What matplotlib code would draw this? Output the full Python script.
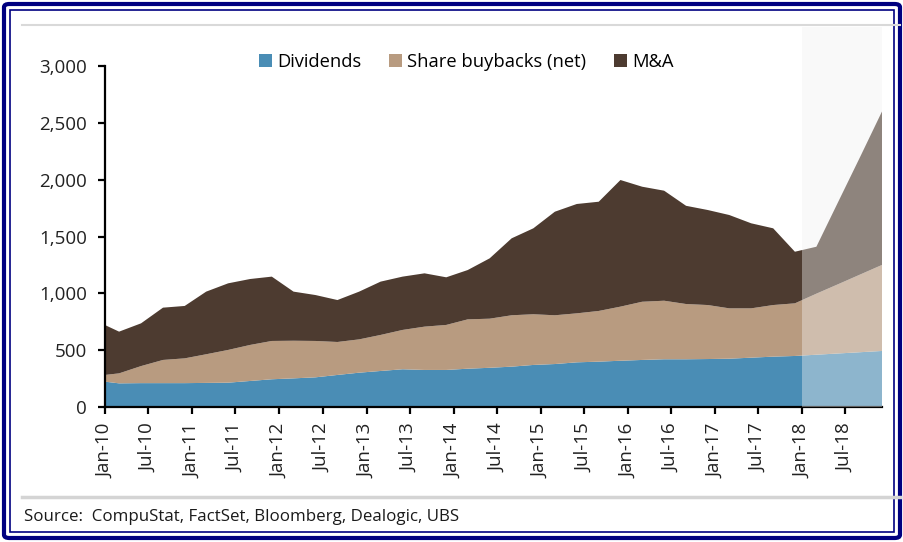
import numpy as np
import pandas as pd
import matplotlib
matplotlib.use("Agg")
import matplotlib.pyplot as plt
import matplotlib.dates as mdates
from matplotlib.patches import Rectangle, Patch, FancyBboxPatch
from matplotlib.lines import Line2D

plt.rcParams['font.family'] = ['Open Sans', 'DejaVu Sans']

# Quarterly observations (first point Jan-10, then quarter ends), USD bn
dates = ["2010-01", "2010-03", "2010-06", "2010-09", "2010-12",
         "2011-03", "2011-06", "2011-09", "2011-12",
         "2012-03", "2012-06", "2012-09", "2012-12",
         "2013-03", "2013-06", "2013-09", "2013-12",
         "2014-03", "2014-06", "2014-09", "2014-12",
         "2015-03", "2015-06", "2015-09", "2015-12",
         "2016-03", "2016-06", "2016-09", "2016-12",
         "2017-03", "2017-06", "2017-09", "2017-12",
         "2018-03", "2018-06", "2018-09", "2018-12"]

dividends = [223, 208, 210, 210, 210, 212, 214, 229, 244, 252, 261, 282, 302,
             317, 332, 326, 326, 337, 345, 355, 370, 378, 393, 399, 407, 414,
             420, 420, 422, 425, 434, 443, 449, 460, 471, 482, 493]
buybacks = [59, 88, 150, 204, 218, 252, 288, 317, 337, 331, 320, 290, 293,
            317, 346, 381, 396, 434, 432, 452, 446, 429, 431, 446, 476, 512,
            515, 486, 475, 443, 434, 454, 463, 537, 610, 684, 757]
ma = [439, 367, 376, 460, 461, 551, 586, 580, 566, 432, 404, 369, 420,
      469, 469, 469, 419, 434, 531, 677, 756, 911, 962, 961, 1114, 1012,
      968, 864, 836, 821, 748, 675, 454, 413, 726, 1037, 1350]

labels = ["Dividends", "Share buybacks (net)", "M&A"]
colors = ["#4a8db5", "#b89b80", "#4d3b30"]
source = "Source:  CompuStat, FactSet, Bloomberg, Dealogic, UBS"

x = pd.to_datetime(dates)

W, H = 904, 542
fig = plt.figure(figsize=(W / 100, H / 100), dpi=100)
fig.patch.set_facecolor("white")
ax = fig.add_axes([105 / W, 1 - 407 / H, (882 - 105) / W, (407 - 66) / H])

ax.stackplot(x, dividends, buybacks, ma, colors=colors, linewidth=0)

ax.set_xlim(x[0], x[-1])
ax.set_ylim(0, 3000)
ax.set_yticks(range(0, 3001, 500))
ax.yaxis.set_major_formatter(matplotlib.ticker.FuncFormatter(lambda v, p: f"{int(v):,}"))

ticks = pd.date_range("2010-01-01", "2018-07-01", freq="6MS")
ax.set_xticks(ticks)
ax.set_xticklabels([t.strftime("%b-%y") for t in ticks], rotation=90)

for s in ["top", "right"]:
    ax.spines[s].set_visible(False)
for s in ["left", "bottom"]:
    ax.spines[s].set_linewidth(1.6)
    ax.spines[s].set_color("black")
ax.tick_params(axis="both", direction="out", length=5, width=1.6,
               labelsize=13.5, colors="black", labelcolor="#222222")
ax.tick_params(axis="y", pad=8)
ax.tick_params(axis="x", pad=7)

# forecast shading from Jan-18
x0 = mdates.date2num(pd.Timestamp("2018-01-01"))
x1 = mdates.date2num(x[-1])
trans = matplotlib.transforms.blended_transform_factory(ax.transData, ax.transAxes)
ax.add_patch(Rectangle((x0, 0), x1 - x0, (407 - 27) / (407 - 66), transform=trans,
                       facecolor="#f2f2f2", alpha=0.4, edgecolor="none",
                       clip_on=False, zorder=3))

handles = [Patch(facecolor=c, edgecolor="none") for c in colors]
fig.legend(handles, labels, loc="center", bbox_to_anchor=(466 / W, 1 - 62 / H),
           ncol=3, frameon=False, fontsize=13.2, handlelength=0.75,
           handleheight=0.75, handletextpad=0.25, columnspacing=1.5)

# grey separator lines
fig.add_artist(Line2D([22 / W, 900 / W], [1 - 25 / H, 1 - 25 / H], color="#d9d9d9", lw=1.5))
fig.add_artist(Line2D([22 / W, 900 / W], [1 - 497 / H, 1 - 497 / H], color="#d4d4d4", lw=2.5))

fig.text(24 / W, 1 - 517 / H, source, fontsize=12.2, va="center", ha="left", color="#1a1a1a")

# navy double frame
fig.add_artist(FancyBboxPatch((4 / W, 4 / H), (W - 8) / W, (H - 8) / H,
                              boxstyle="round,pad=0,rounding_size=0.006",
                              transform=fig.transFigure, facecolor="none",
                              edgecolor="#000080", lw=3))
fig.add_artist(Rectangle((10 / W, 10 / H), (W - 20) / W, (H - 20) / H,
                         transform=fig.transFigure, facecolor="none",
                         edgecolor="#000080", lw=1.2))

fig.savefig("out.png", dpi=100)
